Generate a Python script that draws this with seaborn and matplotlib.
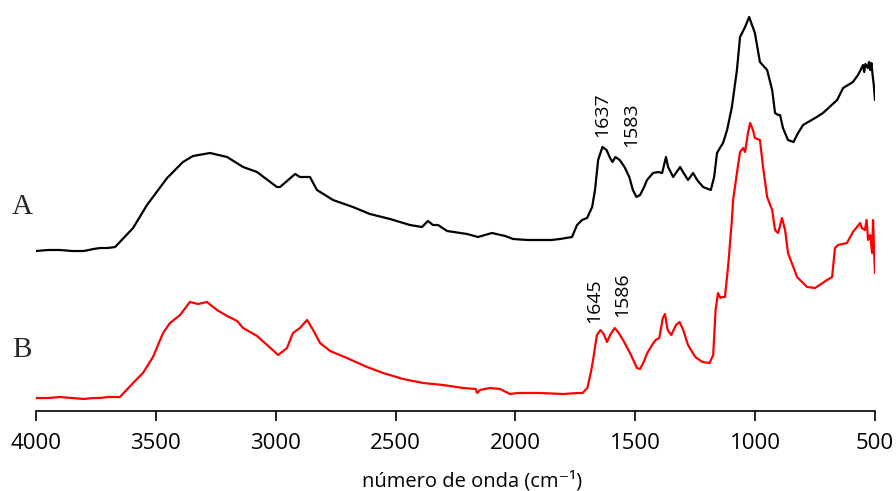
import matplotlib
matplotlib.use("Agg")
import matplotlib.pyplot as plt
import seaborn as sns
import pandas as pd

# Spectrum A (black): wavenumber (cm-1) and relative intensity (arbitrary units, offset trace)
wavenumber_A = [4000, 3950, 3900, 3850, 3800, 3760, 3733, 3700, 3670, 3595, 3537, 3453,
                3387, 3345, 3274, 3203, 3136, 3078, 2995, 2982, 2919, 2899, 2857, 2828,
                2761, 2678, 2607, 2523, 2440, 2390, 2365, 2344, 2323, 2285, 2202, 2156,
                2098, 2043, 2010, 1950, 1850, 1814, 1764, 1743, 1722, 1701, 1680, 1668,
                1655, 1637, 1620, 1605, 1595, 1583, 1565, 1545, 1525, 1510, 1495, 1480,
                1465, 1451, 1426, 1405, 1388, 1372, 1363, 1342, 1313, 1301, 1280, 1259,
                1242, 1217, 1185, 1171, 1159, 1147, 1134, 1117, 1097, 1076, 1063, 1042,
                1025, 1001, 980, 950, 929, 917, 904, 896, 884, 863, 840, 821, 800, 750,
                717, 658, 633, 592, 571, 560, 550, 545, 540, 530, 525, 520, 515, 510,
                505, 500]
intensity_A = [1.60, 1.61, 1.61, 1.60, 1.60, 1.62, 1.63, 1.63, 1.64, 1.83, 2.06, 2.33,
               2.49, 2.55, 2.58, 2.54, 2.44, 2.39, 2.24, 2.24, 2.37, 2.34, 2.34, 2.21,
               2.11, 2.04, 1.97, 1.92, 1.86, 1.84, 1.90, 1.86, 1.86, 1.80, 1.77, 1.74,
               1.78, 1.75, 1.72, 1.71, 1.71, 1.72, 1.74, 1.86, 1.91, 1.93, 2.04, 2.21,
               2.51, 2.64, 2.61, 2.53, 2.49, 2.54, 2.51, 2.44, 2.34, 2.21, 2.14, 2.16,
               2.23, 2.31, 2.38, 2.39, 2.38, 2.54, 2.44, 2.34, 2.44, 2.39, 2.31, 2.38,
               2.31, 2.24, 2.21, 2.34, 2.58, 2.63, 2.68, 2.81, 3.04, 3.41, 3.74, 3.84,
               3.94, 3.78, 3.49, 3.41, 3.21, 2.98, 2.96, 2.96, 2.83, 2.71, 2.69, 2.78,
               2.86, 2.93, 2.98, 3.11, 3.23, 3.29, 3.36, 3.41, 3.46, 3.39, 3.47, 3.43,
               3.49, 3.41, 3.48, 3.36, 3.26, 3.11]

# Spectrum B (red)
wavenumber_B = [4000, 3950, 3900, 3850, 3800, 3760, 3733, 3700, 3650, 3595, 3554, 3512,
                3470, 3441, 3399, 3358, 3324, 3287, 3245, 3203, 3161, 3136, 3078, 3036,
                2990, 2953, 2928, 2899, 2869, 2844, 2815, 2773, 2703, 2619, 2552, 2469,
                2385, 2302, 2219, 2165, 2160, 2148, 2106, 2064, 2023, 1989, 1900, 1800,
                1740, 1720, 1700, 1685, 1676, 1668, 1660, 1645, 1632, 1618, 1605, 1586,
                1572, 1551, 1522, 1493, 1480, 1465, 1450, 1430, 1415, 1400, 1385, 1376,
                1365, 1350, 1330, 1315, 1300, 1280, 1250, 1220, 1190, 1175, 1165, 1155,
                1145, 1138, 1126, 1113, 1097, 1092, 1076, 1063, 1050, 1042, 1030, 1021,
                1009, 1001, 980, 967, 950, 929, 917, 904, 888, 875, 863, 825, 783, 750,
                700, 679, 667, 654, 617, 592, 562, 555, 542, 535, 529, 520, 512, 508,
                504, 500]
intensity_B = [0.13, 0.13, 0.14, 0.13, 0.12, 0.13, 0.13, 0.14, 0.14, 0.28, 0.38, 0.54,
               0.78, 0.88, 0.96, 1.09, 1.07, 1.09, 1.01, 0.95, 0.90, 0.83, 0.75, 0.66,
               0.56, 0.63, 0.78, 0.83, 0.91, 0.81, 0.68, 0.60, 0.53, 0.44, 0.38, 0.32,
               0.28, 0.26, 0.23, 0.22, 0.18, 0.21, 0.23, 0.22, 0.17, 0.18, 0.18, 0.17,
               0.18, 0.18, 0.23, 0.39, 0.51, 0.64, 0.76, 0.81, 0.77, 0.69, 0.76, 0.83,
               0.79, 0.71, 0.58, 0.43, 0.42, 0.49, 0.58, 0.66, 0.71, 0.73, 0.93, 0.97,
               0.81, 0.76, 0.86, 0.89, 0.81, 0.66, 0.54, 0.49, 0.48, 0.56, 1.01, 1.18,
               1.13, 1.14, 1.14, 1.44, 1.91, 2.11, 2.38, 2.59, 2.63, 2.59, 2.78, 2.88,
               2.81, 2.73, 2.71, 2.44, 2.14, 2.01, 1.81, 1.78, 1.93, 1.81, 1.58, 1.34,
               1.24, 1.23, 1.31, 1.34, 1.63, 1.66, 1.68, 1.79, 1.88, 1.83, 1.81, 1.91,
               1.71, 1.76, 1.58, 1.91, 1.61, 1.38]

# Assigned band positions: (label, wavenumber)
bands_A = [("1637", 1637), ("1583", 1583)]
bands_B = [("1645", 1645), ("1586", 1586)]

x_ticks = [4000, 3500, 3000, 2500, 2000, 1500, 1000, 500]
x_label = "número de onda (cm\u207b\u00b9)"
trace_names = ["A", "B"]

sns.set_style("white")
plt.rcParams["font.family"] = ["Open Sans", "DejaVu Sans"]

df_A = pd.DataFrame({"wn": wavenumber_A, "I": intensity_A})
df_B = pd.DataFrame({"wn": wavenumber_B, "I": intensity_B})

fig = plt.figure(figsize=(8.96, 4.91), dpi=100)
ax = fig.add_axes([36 / 896, 80 / 491, 839 / 896, 401 / 491])

sns.lineplot(data=df_A, x="wn", y="I", color="black", lw=1.6, estimator=None, ax=ax)
sns.lineplot(data=df_B, x="wn", y="I", color="#ff0000", lw=1.6, estimator=None, ax=ax)

ax.set_xlim(4000, 500)
ax.set_ylim(0, 4.01)
ax.set_xticks(x_ticks)
ax.set_xticklabels([str(t) for t in x_ticks], fontsize=16, color="black")
ax.set_yticks([])
ax.set_ylabel("")
ax.tick_params(axis="x", direction="out", length=7, width=1.2, color="black", pad=9,
               bottom=True)
for side in ["left", "right", "top"]:
    ax.spines[side].set_visible(False)
ax.spines["bottom"].set_color("black")
ax.spines["bottom"].set_linewidth(1.2)

ax.set_xlabel(x_label, fontsize=14.5, color="black")
ax.xaxis.set_label_coords((472 - 36) / 839, -(486 - 411) / 401)
ax.xaxis.label.set_va("baseline")

# Band annotations (rotated), anchored at the band position on each trace
offsets_A = [(0, 10), (16, 10)]
offsets_B = [(-6, 7), (8, 11)]
for (lab, wn), (dx, dy) in zip(bands_A, offsets_A):
    y = df_A.loc[df_A["wn"] == wn, "I"].iloc[0]
    ax.annotate(lab, xy=(wn, y), xytext=(dx, dy), textcoords="offset pixels",
                rotation=90, ha="center", va="bottom", fontsize=14, color="black")
for (lab, wn), (dx, dy) in zip(bands_B, offsets_B):
    y = df_B.loc[df_B["wn"] == wn, "I"].iloc[0]
    ax.annotate(lab, xy=(wn, y), xytext=(dx, dy), textcoords="offset pixels",
                rotation=90, ha="center", va="bottom", fontsize=14, color="black")

# Trace identifiers
fig.text(22 / 896, 1 - 207 / 491, trace_names[0], ha="center", va="center",
         fontsize=21, family="Liberation Serif")
fig.text(22 / 896, 1 - 350 / 491, trace_names[1], ha="center", va="center",
         fontsize=21, family="Liberation Serif")

fig.savefig("out.png", dpi=100)
